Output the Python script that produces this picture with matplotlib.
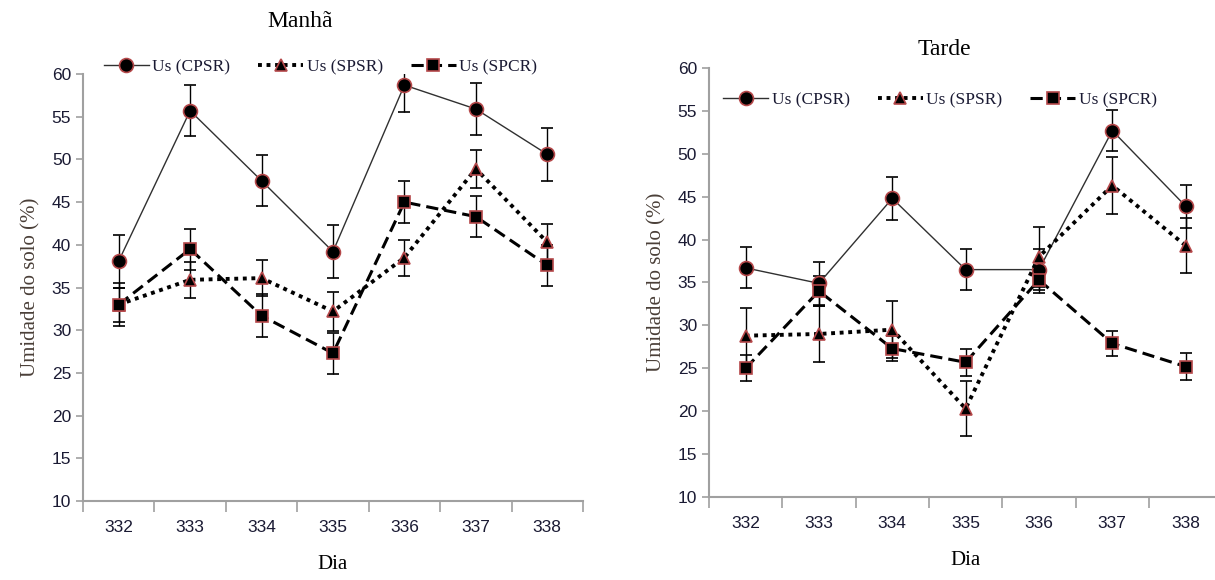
import matplotlib
matplotlib.use('Agg')
import matplotlib.pyplot as plt
from matplotlib.lines import Line2D
import numpy as np

# dias de medição
dias = ['332', '333', '334', '335', '336', '337', '338']

# Manhã
manha_cpsr = [38.1, 55.7, 47.5, 39.2, 58.7, 55.9, 50.6]
manha_cpsr_err = [3.1, 3.0, 3.0, 3.1, 3.1, 3.1, 3.1]
manha_spsr = [33.0, 35.9, 36.1, 32.2, 38.5, 48.9, 40.3]
manha_spsr_err = [2.0, 2.1, 2.1, 2.3, 2.1, 2.2, 2.1]
manha_spcr = [33.0, 39.5, 31.7, 27.3, 45.0, 43.3, 37.6]
manha_spcr_err = [2.5, 2.4, 2.5, 2.4, 2.5, 2.4, 2.4]

# Tarde
tarde_cpsr = [36.7, 34.9, 44.8, 36.5, 36.5, 52.7, 43.9]
tarde_cpsr_err = [2.4, 2.5, 2.5, 2.4, 2.4, 2.4, 2.5]
tarde_spsr = [28.8, 29.0, 29.5, 20.3, 38.0, 46.3, 39.3]
tarde_spsr_err = [3.2, 3.3, 3.3, 3.2, 3.5, 3.3, 3.2]
tarde_spcr = [25.0, 34.0, 27.3, 25.7, 35.3, 27.9, 25.2]
tarde_spcr_err = [1.5, 1.7, 1.5, 1.6, 1.5, 1.5, 1.6]

labels = ['Us (CPSR)', 'Us (SPSR)', 'Us (SPCR)']
edge = '#b5484a'
tick_color = '#1a1a33'
tick_font = ['Liberation Sans Narrow', 'Liberation Sans', 'DejaVu Sans']
serif = ['Liberation Serif', 'DejaVu Serif']

# estilos das séries
styles = [
    dict(color='#303030', lw=1.0, ls='-', marker='o', ms=10),
    dict(color='black', lw=2.8, ls=(0, (1, 1.2)), marker='^', ms=8),
    dict(color='black', lw=2.2, ls=(0, (4, 2)), marker='s', ms=9),
]

fig = plt.figure(figsize=(12.15, 5.8), dpi=100)
ax1 = fig.add_axes([0.0683, 0.1362, 0.4115, 0.7362])
ax2 = fig.add_axes([0.5835, 0.1431, 0.4225, 0.7397])


def draw(ax, series, title, title_x, title_y, leg_x, leg_y):
    x = np.arange(len(dias))
    for (vals, errs), st in zip(series, styles):
        ax.errorbar(x, vals, yerr=errs, mfc='black', mec=edge, mew=1.2,
                    ecolor='black', elinewidth=1.0, capsize=4, capthick=1.0,
                    zorder=3, **st)

    ax.set_xlim(-0.5, len(dias) - 0.5)
    ax.set_ylim(10, 60)
    ax.set_yticks(np.arange(10, 61, 5))
    ax.set_xticks(np.arange(-0.5, len(dias), 1.0))
    ax.set_xticklabels([])
    ax.set_xticks(x, minor=True)
    ax.set_xticklabels(dias, minor=True)
    ax.tick_params(axis='x', which='major', length=8, width=1.2, color='#a0a0a0', direction='out')
    ax.tick_params(axis='x', which='minor', length=0, pad=14, labelsize=12.5, labelcolor=tick_color)
    ax.tick_params(axis='y', length=5, width=1.2, color='#a0a0a0', labelsize=12.5, labelcolor=tick_color)
    for lab in ax.get_xticklabels(minor=True) + ax.get_yticklabels():
        lab.set_family(tick_font)

    for s in ['top', 'right']:
        ax.spines[s].set_visible(False)
    for s in ['left', 'bottom']:
        ax.spines[s].set_color('#a0a0a0')
        ax.spines[s].set_linewidth(1.5)

    ax.set_title(title, family=serif, fontsize=17, x=title_x, y=title_y)
    ax.set_xlabel('Dia', family=serif, fontsize=15, labelpad=14)
    ax.set_ylabel('Umidade do solo (%)', family=serif, fontsize=15, color='#4a3f38', labelpad=8)

    handles = [Line2D([], [], mfc='black', mec=edge, mew=1.2, **st) for st in styles]
    leg = ax.legend(handles, labels, loc='center', bbox_to_anchor=(leg_x, leg_y), ncol=3,
                    frameon=False, handlelength=2.6, columnspacing=1.6, handletextpad=0.2,
                    prop={'family': serif, 'size': 12.5})
    for t in leg.get_texts():
        t.set_color(tick_color)


draw(ax1, [(manha_cpsr, manha_cpsr_err), (manha_spsr, manha_spsr_err),
           (manha_spcr, manha_spcr_err)], 'Manhã', 0.434, 1.09, 0.475, 1.016)
draw(ax2, [(tarde_cpsr, tarde_cpsr_err), (tarde_spsr, tarde_spsr_err),
           (tarde_spcr, tarde_spcr_err)], 'Tarde', 0.458, 1.01, 0.45, 0.925)

fig.savefig('out.png', dpi=100)
